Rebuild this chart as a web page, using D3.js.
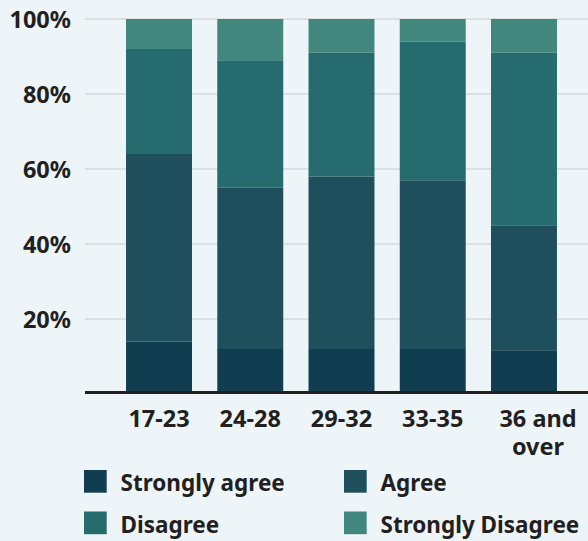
<!DOCTYPE html>
<html>
<head>
<meta charset="utf-8">
<script src="https://cdn.jsdelivr.net/npm/d3@7"></script>
<style>
  html, body { margin: 0; padding: 0; background: #edf5f9; }
  svg { display: block; font-family: "Noto Sans", "Open Sans", sans-serif; }
</style>
</head>
<body>
<div id="container"></div>
<script>
// age groups on the x axis
const ageGroups = ["17-23", "24-28", "29-32", "33-35", "36 and over"]
const answers = ["Strongly agree", "Agree", "Disagree", "Strongly Disagree"]

// share of answers (%) per age group
const stronglyAgree    = [14, 12, 12, 12, 11.5]
const agree            = [50, 43, 46, 45, 33.5]
const disagree         = [28, 34, 33, 37, 46]
const stronglyDisagree = [8, 11, 9, 6, 9]

const yTicks = [20, 40, 60, 80, 100]
const colors = ["#113d51", "#1f4f5c", "#266b6e", "#42877d"]

var initWidth = 588
var initHeight = 541

// build rows for the stack
var rows = ageGroups.map(function(g, i){
  return {
    group: g,
    "Strongly agree": stronglyAgree[i],
    "Agree": agree[i],
    "Disagree": disagree[i],
    "Strongly Disagree": stronglyDisagree[i]
  }
})
var series = d3.stack().keys(answers)(rows)

var svg = d3.select("#container")
            .append("svg")
            .attr("width", initWidth)
            .attr("height", initHeight)

svg.append("rect")
   .attr("width", initWidth)
   .attr("height", initHeight)
   .attr("fill", "#edf5f9")

var xScale = d3.scaleBand()
               .domain(ageGroups)
               .range([113.4, 569.6])
               .paddingInner(0.277)
               .paddingOuter(0.1385)

var yScale = d3.scaleLinear()
               .domain([0, 100])
               .range([394, 19])

// gridlines
svg.append("g")
   .attr("class", "grid")
   .selectAll("line")
   .data(yTicks)
   .enter()
   .append("line")
   .attr("x1", 85)
   .attr("x2", initWidth)
   .attr("y1", function(d){ return yScale(d) })
   .attr("y2", function(d){ return yScale(d) })
   .attr("stroke", "#d5d8db")
   .attr("stroke-width", 1.5)

// y axis labels
var yAxis = d3.axisLeft(yScale)
              .tickValues(yTicks)
              .tickSize(0)
              .tickPadding(0)
              .tickFormat(function(d){ return d + "%" })
var gy = svg.append("g")
            .attr("transform", "translate(71,0)")
            .call(yAxis)
gy.select(".domain").remove()
gy.selectAll("text")
  .attr("font-family", "Noto Sans, sans-serif")
  .attr("font-size", "23.5px")
  .attr("font-weight", "bold")
  .attr("fill", "#231f20")
  .attr("dy", "0.35em")

// stacked bars
svg.append("g")
   .selectAll("g")
   .data(series)
   .enter()
   .append("g")
   .attr("fill", function(d, i){ return colors[i] })
   .selectAll("rect")
   .data(function(d){ return d })
   .enter()
   .append("rect")
   .attr("x", function(d){ return xScale(d.data.group) })
   .attr("width", xScale.bandwidth())
   .attr("y", function(d){ return yScale(d[1]) })
   .attr("height", function(d){ return yScale(d[0]) - yScale(d[1]) })

// x axis line
svg.append("line")
   .attr("x1", 85)
   .attr("x2", initWidth)
   .attr("y1", 392.5)
   .attr("y2", 392.5)
   .attr("stroke", "#231f20")
   .attr("stroke-width", 3)

// x axis labels (wrap long one onto two lines)
var xAxis = d3.axisBottom(xScale).tickSize(0).tickPadding(0)
var gx = svg.append("g")
            .attr("transform", "translate(0,427)")
            .call(xAxis)
gx.select(".domain").remove()
gx.selectAll("text").remove()
gx.selectAll(".tick").each(function(d){
  var words = d.split(" ")
  var lines = words.length > 2 ? [words.slice(0, 2).join(" "), words.slice(2).join(" ")] : [d]
  var shift = lines.length > 1 ? 14 : 0
  var tick = d3.select(this)
  lines.forEach(function(l, i){
    tick.append("text")
        .attr("text-anchor", "middle")
        .attr("font-family", "Noto Sans, sans-serif")
        .attr("font-size", "23.5px")
        .attr("font-weight", "bold")
        .attr("fill", "#231f20")
        .attr("x", shift)
        .attr("y", i * 28)
        .text(l)
  })
})

// legend, two columns
var legend = svg.append("g")
                .selectAll("g")
                .data(answers)
                .enter()
                .append("g")
                .attr("transform", function(d, i){
                  return `translate(${84 + (i % 2) * 260}, ${470 + Math.floor(i / 2) * 41.5})`
                })
legend.append("rect")
      .attr("width", 22.7)
      .attr("height", 22.7)
      .attr("fill", function(d, i){ return colors[i] })
legend.append("text")
      .text(function(d){ return d })
      .attr("x", 36.5)
      .attr("y", 21)
      .attr("font-size", "22.5px")
      .attr("font-weight", "bold")
      .attr("fill", "#231f20")
</script>
</body>
</html>
